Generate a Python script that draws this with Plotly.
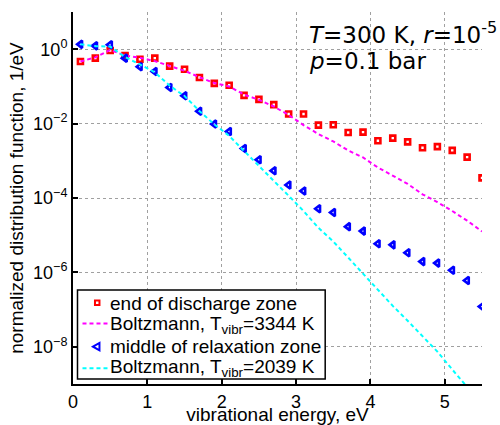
import plotly.graph_objects as go

# vibrational energy, eV
energy = [0.1, 0.3, 0.5, 0.7, 0.9, 1.1, 1.3, 1.5, 1.7, 1.9, 2.1, 2.3, 2.5, 2.7,
          2.9, 3.1, 3.3, 3.5, 3.7, 3.9, 4.1, 4.3, 4.5, 4.7, 4.9, 5.1, 5.3, 5.5]

# log10 of normalized distribution function
log_end_discharge = [-0.33, -0.24, -0.035, -0.17, -0.27, -0.24, -0.455, -0.54, -0.76, -0.92,
                     -0.97, -1.24, -1.35, -1.49, -1.74, -1.74, -2.04, -2.03, -2.24, -2.23,
                     -2.46, -2.39, -2.49, -2.65, -2.62, -2.72, -2.90, -3.46]
log_boltz_3344 = [-0.33, -0.22, -0.02, -0.17, -0.23, -0.32, -0.45, -0.58, -0.75, -0.91,
                  -1.00, -1.22, -1.36, -1.54, -1.77, -2.04, -2.28, -2.48, -2.72, -2.91,
                  -3.18, -3.39, -3.62, -3.90, -4.11, -4.35, -4.61, -4.90]
log_middle_relax = [0.13, 0.09, 0.12, -0.24, -0.47, -0.60, -1.03, -1.25, -1.67, -2.01,
                    -2.21, -2.67, -2.97, -3.27, -3.65, -3.81, -4.29, -4.39, -4.77, -4.89,
                    -5.23, -5.26, -5.47, -5.71, -5.75, -5.94, -6.22, -6.92]
log_boltz_2039 = [0.13, 0.08, 0.07, -0.21, -0.41, -0.62, -0.98, -1.26, -1.66, -2.02,
                  -2.33, -2.74, -3.14, -3.54, -3.94, -4.35, -4.80, -5.17, -5.60, -6.04,
                  -6.47, -6.90, -7.30, -7.72, -8.13, -8.61, -9.06, -9.55]

series_names = ["end of discharge zone",
                "Boltzmann, T<sub>vibr</sub>=3344 K",
                "middle of relaxation zone",
                "Boltzmann, T<sub>vibr</sub>=2039 K"]

y_tickvals = [1e0, 1e-2, 1e-4, 1e-6, 1e-8]
y_ticktext = ["10<sup>0</sup>", "10<sup>−2</sup>", "10<sup>−4</sup>",
              "10<sup>−6</sup>", "10<sup>−8</sup>"]
x_tickvals = [0, 1, 2, 3, 4, 5]

RED, MAGENTA, BLUE, CYAN = "#ff0000", "#ff00ff", "#0000ff", "#00ffff"

# plot-area geometry in pixels (for layout helpers only)
L, R, T, B = 72.5, 482.0, 12.0, 384.0


def px(xp):
    return (xp - L) / (R - L)


def py(yp):
    return (B - yp) / (B - T)


def lin(v):
    return [10 ** a for a in v]


fig = go.Figure()
fig.add_trace(go.Scatter(
    x=energy, y=lin(log_end_discharge), mode="markers", name=series_names[0],
    marker=dict(symbol="square-open", size=5, color=RED,
                line=dict(width=2.6, color=RED))))
fig.add_trace(go.Scatter(
    x=energy, y=lin(log_boltz_3344), mode="lines", name=series_names[1],
    line=dict(color=MAGENTA, width=2, dash="4px,3px")))
fig.add_trace(go.Scatter(
    x=energy, y=lin(log_middle_relax), mode="markers", name=series_names[2],
    marker=dict(symbol="triangle-left-open", size=6.5, color=BLUE,
                line=dict(width=2.6, color=BLUE))))
fig.add_trace(go.Scatter(
    x=energy, y=lin(log_boltz_2039), mode="lines", name=series_names[3],
    line=dict(color=CYAN, width=2, dash="4px,3px")))

FONT = "Liberation Sans, Arial, Helvetica, sans-serif"
tick_font = dict(family=FONT, size=18, color="black")
title_font = dict(family=FONT, size=19, color="black")

# ---- hand-built legend (compact row spacing as in the reference) ----
shapes = [
    dict(type="rect", xref="paper", yref="paper", layer="above",
         x0=px(77), x1=px(325), y0=py(379), y1=py(290),
         line=dict(color="black", width=1.5), fillcolor="white"),
    # square symbol
    dict(type="rect", xref="paper", yref="paper", layer="above",
         x0=px(94.5), x1=px(99), y0=py(305), y1=py(300.5),
         line=dict(color=RED, width=2), fillcolor="white"),
    # dashed magenta
    dict(type="line", xref="paper", yref="paper", layer="above",
         x0=px(82), x1=px(110), y0=py(323.5), y1=py(323.5),
         line=dict(color=MAGENTA, width=2, dash="4px,3px")),
    # triangle-left symbol
    dict(type="path", xref="paper", yref="paper", layer="above",
         path=f"M {px(92.5)},{py(346.7)} L {px(99)},{py(343)} L {px(99)},{py(350.4)} Z",
         line=dict(color=BLUE, width=2), fillcolor="white"),
    # dashed cyan
    dict(type="line", xref="paper", yref="paper", layer="above",
         x0=px(82), x1=px(110), y0=py(368.3), y1=py(368.3),
         line=dict(color=CYAN, width=2, dash="4px,3px")),
]

legend_rows_y = [303.3, 325.0, 346.7, 368.3]
annotations = []
for name, yy in zip(series_names, legend_rows_y):
    annotations.append(dict(
        x=px(107.5), y=py(yy), xref="paper", yref="paper", xanchor="left",
        yanchor="middle", showarrow=False, text=name,
        font=dict(family=FONT, size=19, color="black")))

annotations.append(dict(
    x=px(306.5), y=py(33), xref="paper", yref="paper", xanchor="left", yanchor="middle",
    showarrow=False, text="<i>T</i>=300 K, <i>r</i>=10<sup>-5</sup>",
    font=dict(family="DejaVu Sans", size=23, color="black")))
annotations.append(dict(
    x=px(306.5), y=py(60.5), xref="paper", yref="paper", xanchor="left", yanchor="middle",
    showarrow=False, text="<i>p</i>=0.1 bar",
    font=dict(family="DejaVu Sans", size=23, color="black")))

fig.update_layout(
    width=500, height=425,
    margin=dict(l=L, r=500 - R, t=T, b=425 - B, autoexpand=False),
    paper_bgcolor="white", plot_bgcolor="white",
    font=tick_font,
    showlegend=False,
    shapes=shapes,
    annotations=annotations,
    xaxis=dict(range=[0, 5.5], tickvals=x_tickvals, ticks="inside", ticklen=5,
               tickwidth=1.5, tickcolor="black", automargin=False,
               showline=True, linecolor="black", linewidth=2, mirror=False,
               showgrid=True, gridcolor="#a0a0a0", griddash="dot", gridwidth=1,
               zeroline=False, tickfont=tick_font,
               title=dict(text="vibrational energy, eV", font=title_font, standoff=2)),
    yaxis=dict(type="log", range=[-9, 1], tickvals=y_tickvals, ticktext=y_ticktext,
               ticks="inside", ticklen=5, tickwidth=1.5, tickcolor="black",
               automargin=False,
               showline=True, linecolor="black", linewidth=2, mirror=False,
               showgrid=True, gridcolor="#a0a0a0", griddash="dot", gridwidth=1,
               zeroline=False, tickfont=tick_font,
               title=dict(text="normalized distribution function, 1/eV",
                          font=title_font, standoff=4)),
)

fig.write_html("out.html",
               config={"displayModeBar": False},
               post_script="document.body.style.margin='0';document.body.style.overflow='hidden';")
